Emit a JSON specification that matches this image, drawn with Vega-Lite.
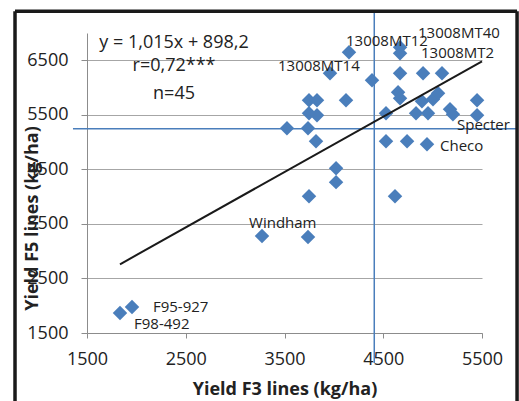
{
  "$schema": "https://vega.github.io/schema/vega-lite/v6.json",
  "width": 395,
  "height": 300,
  "autosize": {"type": "none"},
  "padding": {"left": 87, "top": 33, "right": 37, "bottom": 68},
  "background": "white",
  "config": {"view": {"stroke": null}, "font": "Open Sans"},
  "encoding": {
    "x": {
      "field": "f3", "type": "quantitative",
      "scale": {"domain": [1500, 5500], "nice": false, "zero": false},
      "axis": {
        "title": "Yield F3 lines (kg/ha)",
        "values": [1500, 2500, 3500, 4500, 5500],
        "format": "d",
        "grid": false,
        "domainColor": "#8c8c8c", "tickColor": "#8c8c8c", "tickSize": 5,
        "labelFontSize": 18, "labelColor": "#222222", "labelFont": "Open Sans",
        "labelPadding": 12, "labelFlush": false, "labelOverlap": false,
        "titleFont": "Open Sans", "titleFontSize": 18, "titleFontWeight": "bold", "titleColor": "#222222",
        "titleY": 61, "titleBaseline": "alphabetic"
      }
    },
    "y": {
      "field": "f5", "type": "quantitative",
      "scale": {"domain": [1500, 7000], "nice": false, "zero": false},
      "axis": {
        "title": "Yield F5 lines (kg/ha)",
        "values": [1500, 2500, 3500, 4500, 5500, 6500],
        "format": "d",
        "grid": true, "gridColor": "#a6a6a6", "gridWidth": 1,
        "domainColor": "#8c8c8c", "tickColor": "#8c8c8c", "tickSize": 6,
        "labelFontSize": 18, "labelColor": "#222222", "labelFont": "Open Sans",
        "labelPadding": 13, "labelFlush": false, "labelOverlap": false,
        "titleFont": "Open Sans", "titleFontSize": 18, "titleFontWeight": "bold", "titleColor": "#222222",
        "titleAngle": 270, "titleX": -50, "titleY": 185, "titleBaseline": "alphabetic", "titleAlign": "center"
      }
    }
  },
  "layer": [
    {
      "data": {"values": [{"f3": 4409, "f5": 7416, "f5b": 951}]},
      "mark": {"type": "rule", "color": "#4a7ebb", "strokeWidth": 1.5},
      "encoding": {"y2": {"field": "f5b"}}
    },
    {
      "data": {"values": [{"f3": 1358, "f3b": 5855, "f5": 5245}]},
      "mark": {"type": "rule", "color": "#4a7ebb", "strokeWidth": 1.5},
      "encoding": {"x2": {"field": "f3b"}}
    },
    {
      "data": {"values": [
        {"f3": 4153, "f5": 6646}, {"f3": 4670, "f5": 6738}, {"f3": 4670, "f5": 6628},
        {"f3": 3961, "f5": 6262}, {"f3": 4386, "f5": 6134}, {"f3": 4670, "f5": 6262},
        {"f3": 4903, "f5": 6262}, {"f3": 5095, "f5": 6262}, {"f3": 3748, "f5": 5767},
        {"f3": 3829, "f5": 5767}, {"f3": 4123, "f5": 5767}, {"f3": 4650, "f5": 5914},
        {"f3": 4670, "f5": 5804}, {"f3": 4892, "f5": 5749}, {"f3": 5004, "f5": 5786},
        {"f3": 5055, "f5": 5896}, {"f3": 5450, "f5": 5767}, {"f3": 3748, "f5": 5529},
        {"f3": 3829, "f5": 5493}, {"f3": 4528, "f5": 5529}, {"f3": 4832, "f5": 5529},
        {"f3": 4953, "f5": 5529}, {"f3": 5176, "f5": 5603}, {"f3": 5206, "f5": 5511},
        {"f3": 5450, "f5": 5493}, {"f3": 3525, "f5": 5255}, {"f3": 3738, "f5": 5255},
        {"f3": 3819, "f5": 5016}, {"f3": 4528, "f5": 5016}, {"f3": 4741, "f5": 5016},
        {"f3": 4943, "f5": 4962}, {"f3": 4022, "f5": 4522}, {"f3": 4022, "f5": 4266},
        {"f3": 3748, "f5": 4009}, {"f3": 4619, "f5": 4009}, {"f3": 3272, "f5": 3277},
        {"f3": 3738, "f5": 3258}, {"f3": 1834, "f5": 1866}, {"f3": 1956, "f5": 1976}
      ]},
      "mark": {"type": "point", "shape": "diamond", "filled": true, "size": 210, "color": "#4a7ebb", "opacity": 1, "strokeWidth": 0}
    },
    {
      "data": {"values": [{"f3": 1834, "f5": 2760}, {"f3": 5500, "f5": 6481}]},
      "mark": {"type": "line", "color": "#1a1a1a", "strokeWidth": 2}
    },
    {
      "data": {"values": [
        {"f3": 3434, "f5": 6390, "label": "13008MT14"},
        {"f3": 4123, "f5": 6848, "label": "13008MT12"},
        {"f3": 4852, "f5": 6995, "label": "13008MT40"},
        {"f3": 4882, "f5": 6628, "label": "13008MT2"},
        {"f3": 5247, "f5": 5310, "label": "Specter"},
        {"f3": 5075, "f5": 4925, "label": "Checo"},
        {"f3": 3141, "f5": 3515, "label": "Windham"},
        {"f3": 2168, "f5": 1975, "label": "F95-927"},
        {"f3": 1976, "f5": 1660, "label": "F98-492"}
      ]},
      "mark": {"type": "text", "align": "left", "baseline": "middle", "fontSize": 15, "font": "Open Sans", "color": "#222222"},
      "encoding": {"text": {"field": "label"}}
    },
    {
      "data": {"values": [
        {"f3": 2381, "f5": 6820, "label": "y = 1,015x + 898,2"},
        {"f3": 2381, "f5": 6390, "label": "r=0,72***"},
        {"f3": 2381, "f5": 5877, "label": "n=45"}
      ]},
      "mark": {"type": "text", "align": "center", "baseline": "middle", "fontSize": 18, "font": "Open Sans", "color": "#222222"},
      "encoding": {"text": {"field": "label"}}
    },
    {
      "data": {"values": [{"f3": 771, "f5": 7397, "f5b": 0}, {"f3": 5855, "f5": 7397, "f5b": 0}]},
      "mark": {"type": "rule", "color": "#1a1a1a", "strokeWidth": 3.5},
      "encoding": {"y2": {"field": "f5b"}}
    },
    {
      "data": {"values": [{"f3": 771, "f3b": 5855, "f5": 7397}]},
      "mark": {"type": "rule", "color": "#1a1a1a", "strokeWidth": 3.5},
      "encoding": {"x2": {"field": "f3b"}}
    }
  ]
}
